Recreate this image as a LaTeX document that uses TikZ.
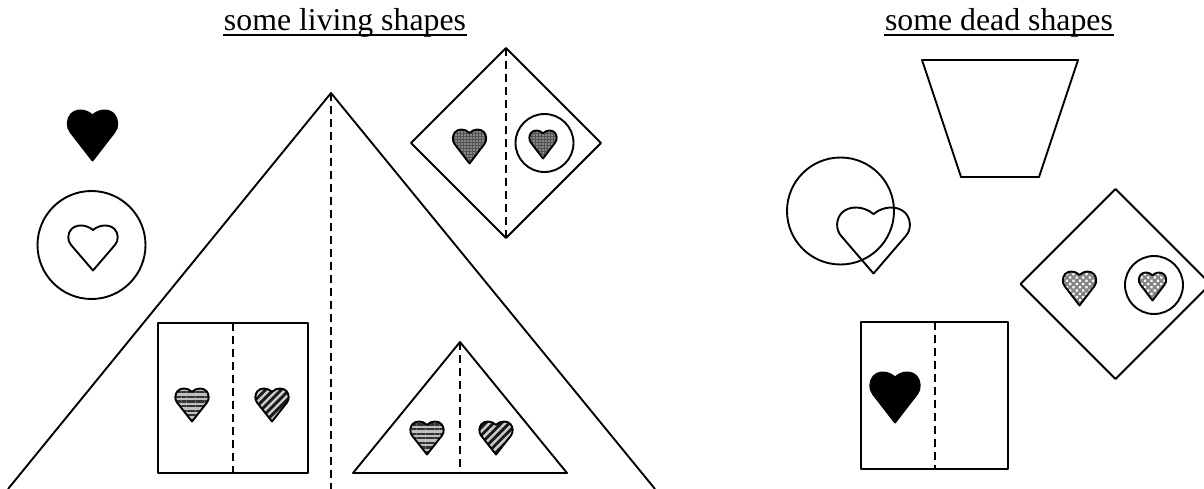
\documentclass[tikz,border=0pt]{standalone}
\usepackage{fontspec}
\setmainfont{Liberation Serif}
\usetikzlibrary{patterns.meta}

\begin{document}
\begin{tikzpicture}[
        x=1pt, y=-1pt,
        line width=1.9pt,
        line join=round,
        font=\fontsize{31.8}{36}\selectfont,
        title_text/.style={inner sep=0pt, anchor=base},
        title_line/.style={line width=2pt},
        split_line/.style={dashed, dash pattern=on 8pt off 5pt},
        pics/heart/.style={code={
            \path[#1] (0,1) -- (-0.45,0.43)
                .. controls (-0.53,0.33) and (-0.52,0.17) .. (-0.44,0.08)
                .. controls (-0.34,-0.03) and (-0.14,-0.03) .. (0,0.1)
                .. controls (0.14,-0.03) and (0.34,-0.03) .. (0.44,0.08)
                .. controls (0.52,0.17) and (0.53,0.33) .. (0.45,0.43)
                -- cycle;
        }},
        solid_heart/.style={fill=black, draw=black},
        flat_heart/.style={draw=black},
        stripe_heart/.style={draw=black, preaction={fill=black!25},
            pattern={Lines[angle=0, distance=4.6pt, line width=2.2pt]}, pattern color=black!80},
        slant_heart/.style={draw=black, preaction={fill=black!20},
            pattern={Lines[angle=45, distance=5.6pt, line width=2.9pt]}, pattern color=black!90},
        dot_heart/.style={draw=black, preaction={fill=black!68},
            pattern={Dots[distance=3pt, radius=0.9pt]}, pattern color=white!75!black},
        mesh_heart/.style={draw=black, preaction={fill=black!48},
            pattern={Dots[distance=4.6pt, radius=1.6pt, angle=45]}, pattern color=white}
    ]
    \useasboundingbox (0,0) rectangle (1204,489);
    \clip (0,0) rectangle (1204,489);

    % Titles
    \node[title_text] (t_living) at (345,31) {some living shapes};
    \node[title_text] (t_dead) at (999,31) {some dead shapes};
    \draw[title_line] ([yshift=-4.5pt]t_living.base west) -- ([yshift=-4.5pt]t_living.base east);
    \draw[title_line] ([yshift=-4.5pt]t_dead.base west) -- ([yshift=-4.5pt]t_dead.base east);

    % Living: big triangle
    \draw (8,489) -- (331,93) -- (655,489);
    \draw[split_line] (331,93) -- (331,489);

    % Living: black heart and circled heart
    \pic[xscale=49, yscale=50] at (92.5,110.5) {heart=solid_heart};
    \draw (91.5,245) circle[radius=54];
    \pic[xscale=49, yscale=45] at (93,225.5) {heart=flat_heart};

    % Living: rhombus
    \draw (506,48) -- (601,143) -- (506,238) -- (411,143) -- cycle;
    \draw[split_line] (506,48) -- (506,238);
    \pic[xscale=33, yscale=34] at (469.5,129.5) {heart=dot_heart};
    \draw (544.5,143) circle[radius=29];
    \pic[xscale=27, yscale=28] at (543,130.5) {heart=dot_heart};

    % Living: square
    \draw (158,323) rectangle (308,473);
    \draw[split_line] (233,323) -- (233,473);
    \pic[xscale=33, yscale=33] at (192,388.5) {heart=stripe_heart};
    \pic[xscale=33, yscale=33] at (272,388.5) {heart=slant_heart};

    % Living: small triangle
    \draw (353,473) -- (460,342) -- (567,473) -- cycle;
    \draw[split_line] (460,342) -- (460,473);
    \pic[xscale=33, yscale=33] at (427,421.5) {heart=stripe_heart};
    \pic[xscale=33, yscale=33] at (496,421.5) {heart=slant_heart};

    % Dead: trapezoid
    \draw (922,60) -- (1078,60) -- (1039,177) -- (961,177) -- cycle;

    % Dead: circle with heart across it
    \draw (840.5,211) circle[radius=53.5];
    \pic[xscale=72, yscale=66] at (873.5,207.5) {heart=flat_heart};

    % Dead: rhombus
    \draw (1115.5,189) -- (1210.5,284) -- (1115.5,379) -- (1020.5,284) -- cycle;
    \pic[xscale=33, yscale=34] at (1079.5,271.5) {heart=mesh_heart};
    \draw (1154,285) circle[radius=29];
    \pic[xscale=27, yscale=28] at (1152.5,272.5) {heart=mesh_heart};

    % Dead: square
    \draw (861,322) rectangle (1008,469);
    \draw[split_line] (935,322) -- (935,469);
    \pic[xscale=49, yscale=50] at (895,372.5) {heart=solid_heart};

\end{tikzpicture}
\end{document}
